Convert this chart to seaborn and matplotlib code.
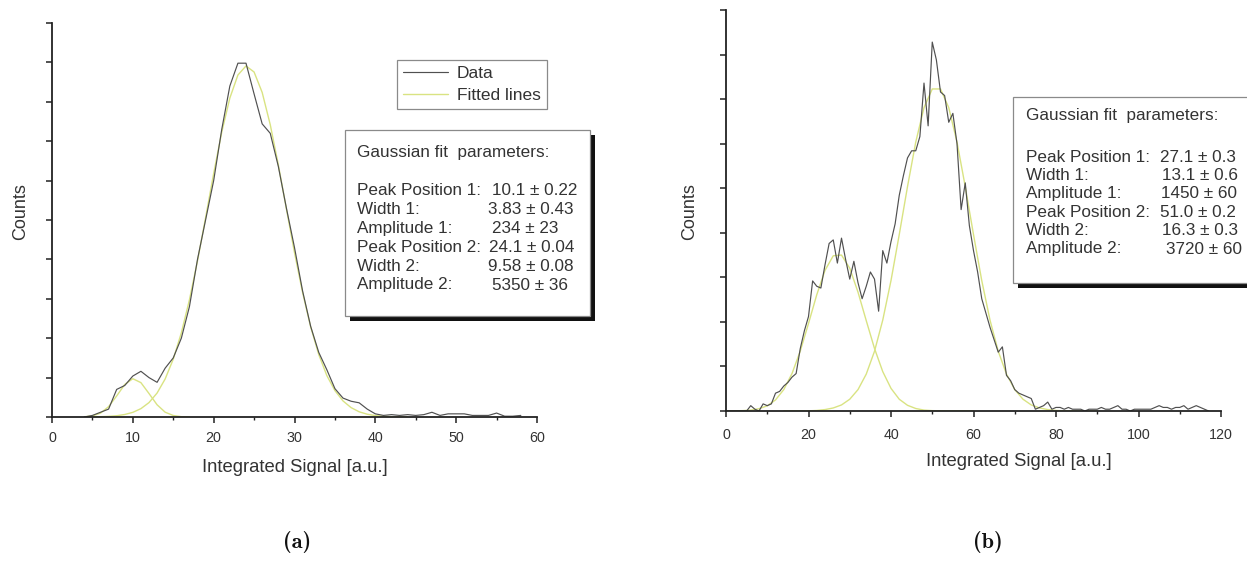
import numpy as np
import pandas as pd
import matplotlib
matplotlib.use("Agg")
import matplotlib.pyplot as plt
from matplotlib.patches import Rectangle
from matplotlib.ticker import MultipleLocator, NullFormatter
import seaborn as sns

# ---------------- data ----------------
# Panel (a)
a_x = list(range(4, 59))
a_counts = [0, 2, 6, 10, 35, 40, 52, 58, 50, 44, 62, 75, 100, 140, 200, 250, 300,
            365, 420, 449, 449, 410, 372, 360, 318, 265, 215, 160, 115, 82, 60, 36,
            24, 20, 18, 10, 4, 2, 3, 2, 3, 2, 3, 6, 2, 4, 4, 4, 2, 2, 2, 5, 1, 1, 2]
a_fit1_x = list(range(4, 18))
a_fit1 = [0.3, 1.4, 4.9, 13.1, 26.7, 41.3, 48.6, 43.6, 29.8, 15.5, 6.1, 1.9, 0.4, 0.1]
a_fit2_x = list(range(4, 45))
a_fit2 = [0.1, 0.2, 0.4, 0.8, 1.6, 3.2, 5.9, 10.6, 18.3, 30.4, 48.3, 73.4, 106.7,
          148.6, 198.0, 252.8, 309.0, 361.5, 404.7, 434.0, 445.5, 437.8, 411.9,
          371.0, 320.0, 264.0, 208.6, 158.0, 114.3, 79.3, 52.6, 33.5, 20.4, 11.9,
          6.6, 3.5, 1.8, 0.9, 0.4, 0.2, 0.1]
a_xticks = [0, 10, 20, 30, 40, 50, 60]
a_params = [("Peak Position 1:", "10.1 \u00b1 0.22"), ("Width 1:", "3.83 \u00b1 0.43"),
            ("Amplitude 1:", "234 \u00b1 23"), ("Peak Position 2:", "24.1 \u00b1 0.04"),
            ("Width 2:", "9.58 \u00b1 0.08"), ("Amplitude 2:", "5350 \u00b1 36")]

# Panel (b)
b_x = list(range(0, 118))
b_counts = [0, 0, 0, 0, 0, 0, 3, 1, 0, 4, 3, 4, 10, 11, 14, 16, 19, 21, 35, 45,
            53, 73, 70, 69, 82, 94, 96, 83, 97, 85, 74, 84, 72, 63, 70, 78, 74, 56,
            90, 83, 95, 105, 121, 132, 142, 146, 146, 154, 184, 160, 207, 197, 179,
            177, 162, 167, 150, 113, 128, 104, 90, 78, 63, 55, 47, 40, 33, 36, 20,
            17, 12, 10, 9, 8, 7, 1, 2, 3, 5, 1, 2, 2, 1, 2, 1, 1, 1, 0, 1, 1, 1, 2,
            1, 1, 2, 3, 1, 1, 0, 1, 1, 1, 1, 1, 2, 3, 2, 2, 1, 2, 2, 3, 1, 2, 3, 2,
            1, 0]
b_fit1_x = list(range(0, 62, 2))
b_fit1 = [0.0, 0.1, 0.2, 0.5, 1.3, 2.9, 6.2, 12.0, 21.0, 33.6, 49.1, 65.2, 78.9,
          87.1, 87.5, 80.1, 66.7, 50.7, 35.1, 22.1, 12.7, 6.6, 3.2, 1.4, 0.5, 0.2,
          0.1, 0.0, 0.0, 0.0, 0.0]
b_fit2_x = list(range(14, 92, 2))
b_fit2 = [0.0, 0.0, 0.0, 0.1, 0.3, 0.8, 1.7, 3.4, 6.6, 12.0, 20.7, 33.5, 51.0, 73.2,
          99.0, 125.9, 150.9, 170.2, 180.7, 180.7, 170.2, 150.9, 125.9, 99.0, 73.2,
          51.0, 33.5, 20.7, 12.0, 6.6, 3.4, 1.7, 0.8, 0.3, 0.1, 0.1, 0.0, 0.0, 0.0]
b_xticks = [0, 20, 40, 60, 80, 100, 120]
b_params = [("Peak Position 1:", "27.1 \u00b1 0.3"), ("Width 1:", "13.1 \u00b1 0.6"),
            ("Amplitude 1:", "1450 \u00b1 60"), ("Peak Position 2:", "51.0 \u00b1 0.2"),
            ("Width 2:", "16.3 \u00b1 0.3"), ("Amplitude 2:", "3720 \u00b1 60")]

# ---------------- style ----------------
sns.set_style("ticks")
plt.rcParams['font.family'] = ['Liberation Sans', 'DejaVu Sans']

W, H = 1247, 587
fig = plt.figure(figsize=(W / 100, H / 100), dpi=100)
fig.patch.set_facecolor('white')


def fx(px):
    return px / W


def fy(py):
    return 1 - py / H


DATA_C = '#505050'
FIT_C = '#d9e382'
TXT_C = '#333333'
AX_C = '#222222'

axA = fig.add_axes([fx(52), fy(417), (537 - 52) / W, (417 - 23) / H])
axB = fig.add_axes([fx(726), fy(411), (1221 - 726) / W, (411 - 10) / H])

# panel a
sns.lineplot(x=a_fit2_x, y=a_fit2, ax=axA, color=FIT_C, linewidth=1.0, label='Fitted lines')
sns.lineplot(x=a_fit1_x, y=a_fit1, ax=axA, color=FIT_C, linewidth=1.0)
sns.lineplot(x=a_x, y=a_counts, ax=axA, color=DATA_C, linewidth=0.85, label='Data')
# panel b
sns.lineplot(x=b_fit1_x, y=b_fit1, ax=axB, color=FIT_C, linewidth=1.0)
sns.lineplot(x=b_fit2_x, y=b_fit2, ax=axB, color=FIT_C, linewidth=1.0)
sns.lineplot(x=b_x, y=b_counts, ax=axB, color=DATA_C, linewidth=0.85)

for ax, xmax, ymax, xmaj, xmin_, ymaj, pad in [
        (axA, 60, 500, 10, 5, 50, 6.0), (axB, 120, 225, 20, 10, 25, 8.0)]:
    ax.set_xlim(0, xmax)
    ax.set_ylim(0, ymax)
    ax.xaxis.set_major_locator(MultipleLocator(xmaj))
    ax.xaxis.set_minor_locator(MultipleLocator(xmin_))
    ax.yaxis.set_major_locator(MultipleLocator(ymaj))
    ax.yaxis.set_major_formatter(NullFormatter())
    ax.tick_params(axis='x', which='major', direction='out', length=4, width=1.1,
                   colors=AX_C, labelsize=10.3, pad=pad, labelcolor=TXT_C)
    ax.tick_params(axis='x', which='minor', direction='out', length=2.5, width=1.0, colors=AX_C)
    ax.tick_params(axis='y', which='major', direction='out', length=4, width=1.1, colors=AX_C)
    for s in ['top', 'right']:
        ax.spines[s].set_visible(False)
    for s in ['left', 'bottom']:
        ax.spines[s].set_linewidth(1.3)
        ax.spines[s].set_color(AX_C)
    ax.set_xlabel('')
    ax.set_ylabel('')
    ax.set_facecolor('none')
    if ax.get_legend() is not None:
        ax.get_legend().remove()

axA.set_xticks(a_xticks)
axA.set_xticklabels([str(t) for t in a_xticks])
axB.set_xticks(b_xticks)
axB.set_xticklabels([str(t) for t in b_xticks])

# axis labels (placed in figure pixel coordinates)
fig.text(fx(295), fy(467), 'Integrated Signal [a.u.]', ha='center', va='center',
         fontsize=13.3, color=TXT_C)
fig.text(fx(1019), fy(462), 'Integrated Signal [a.u.]', ha='center', va='center',
         fontsize=13.3, color=TXT_C)
fig.text(fx(21), fy(212), 'Counts', ha='center', va='center', rotation=90,
         fontsize=13, color=TXT_C)
fig.text(fx(690), fy(212), 'Counts', ha='center', va='center', rotation=90,
         fontsize=13, color=TXT_C)

# legend on panel a
lines = axA.get_lines()
h_fit = lines[0]
h_data = lines[2]
leg = axA.legend([h_data, h_fit], ['Data', 'Fitted lines'], loc='upper left',
                 bbox_to_anchor=(fx(397), fy(60)), bbox_transform=fig.transFigure,
                 frameon=True, fancybox=False, edgecolor='#8a8a8a', framealpha=1,
                 handlelength=2.6, handletextpad=0.5, borderpad=0.35,
                 labelspacing=0.4, borderaxespad=0, fontsize=12.5)
leg.get_frame().set_linewidth(0.9)
for t in leg.get_texts():
    t.set_color(TXT_C)


def param_box(x0, x1, y0, y1, lab_x, val_xs, title_y, row0, dy, params, shadow=5):
    fig.add_artist(Rectangle((fx(x0 + shadow), fy(y1 + shadow)), (x1 - x0) / W,
                             (y1 - y0) / H, transform=fig.transFigure,
                             facecolor='#111111', edgecolor='none', zorder=5))
    fig.add_artist(Rectangle((fx(x0), fy(y1)), (x1 - x0) / W, (y1 - y0) / H,
                             transform=fig.transFigure, facecolor='white',
                             edgecolor='#8a8a8a', linewidth=0.9, zorder=6))
    fig.text(fx(lab_x), fy(title_y), 'Gaussian fit  parameters:', ha='left',
             va='center', fontsize=12.3, color=TXT_C, zorder=7)
    for i, ((lab, val), vx) in enumerate(zip(params, val_xs)):
        yy = row0 + i * dy
        fig.text(fx(lab_x), fy(yy), lab, ha='left', va='center', fontsize=12.3,
                 color=TXT_C, zorder=7)
        fig.text(fx(vx), fy(yy), val, ha='left', va='center', fontsize=12.3,
                 color=TXT_C, zorder=7)


param_box(345, 590, 130, 316, 357, [492, 488, 492, 489, 488, 492], 153, 191, 18.8, a_params)
param_box(1013, 1270, 97, 283, 1026, [1160, 1162, 1161, 1160, 1162, 1166], 116, 157, 18.4,
          b_params)

# panel captions
fig.text(fx(297), fy(542), '(a)', ha='center', va='center', fontsize=16,
         family=['cmb10', 'DejaVu Serif'], color='#111111')
fig.text(fx(988), fy(542), '(b)', ha='center', va='center', fontsize=16,
         family=['cmb10', 'DejaVu Serif'], color='#111111')

fig.savefig('out.png', dpi=100, facecolor='white')
